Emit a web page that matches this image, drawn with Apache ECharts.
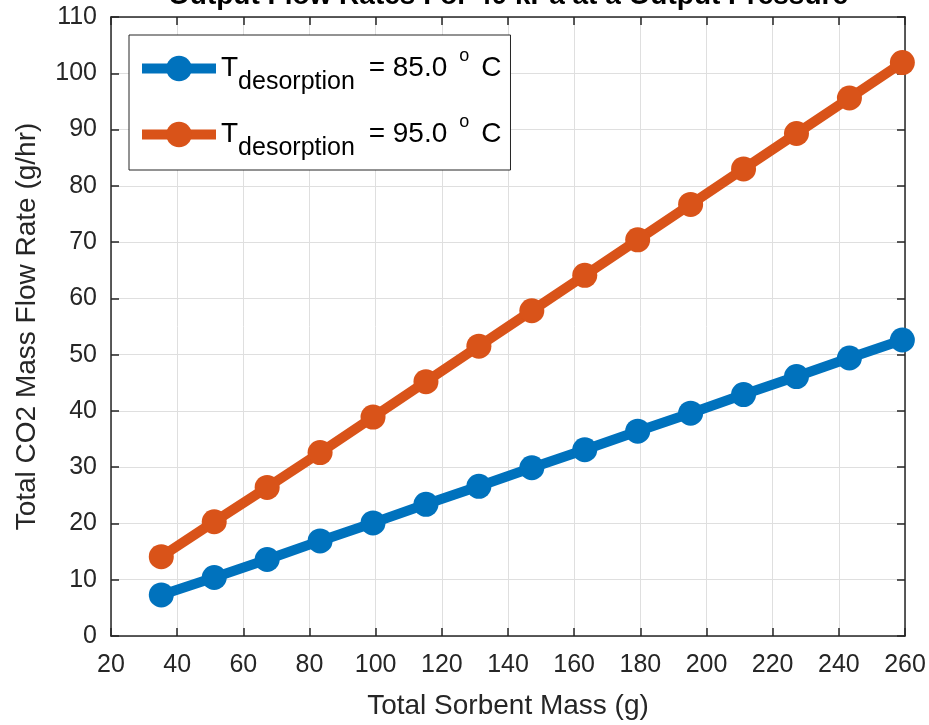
<!DOCTYPE html>
<html>
<head>
<meta charset="utf-8">
<script src="https://cdn.jsdelivr.net/npm/echarts@6/dist/echarts.min.js"></script>
<style>
html,body{margin:0;padding:0;background:#fff;}
#chart{width:929px;height:725px;}
</style>
</head>
<body>
<div id="chart"></div>
<script>
// ---- data ----
const titleText = 'Output Flow Rates For 40 kPa at a Output Pressure';
const xAxisTitle = 'Total Sorbent Mass (g)';
const yAxisTitle = 'Total CO2 Mass Flow Rate (g/hr)';
const sorbentMass = [35.2, 51.2, 67.2, 83.2, 99.2, 115.2, 131.2, 147.2, 163.2, 179.2, 195.2, 211.2, 227.2, 243.2, 259.2];
const flow85 = [7.3, 10.4, 13.6, 16.9, 20.1, 23.4, 26.6, 29.9, 33.1, 36.4, 39.6, 42.9, 46.1, 49.4, 52.6];
const flow95 = [14.1, 20.3, 26.4, 32.6, 38.9, 45.2, 51.5, 57.8, 64.1, 70.4, 76.7, 83.0, 89.3, 95.6, 101.9];
const seriesNames = ['T_desorption = 85.0 °C', 'T_desorption = 95.0 °C'];
const seriesTemps = ['85.0', '95.0'];
const seriesColors = ['#0072BD', '#D95319'];
const xMin = 20, xMax = 260, xStep = 20;
const yMin = 0, yMax = 110, yStep = 10;

const FONT = '"Liberation Sans", Arial, Helvetica, sans-serif';
const AX = '#262626';

const chart = echarts.init(document.getElementById('chart'), null, {renderer: 'canvas'});

function mkSeries(name, ys, color) {
  return {
    name: name,
    type: 'line',
    data: sorbentMass.map((x, i) => [x, ys[i]]),
    symbol: 'circle',
    symbolSize: 25,
    lineStyle: {color: color, width: 10},
    itemStyle: {color: color},
    emphasis: {disabled: true},
    z: 3
  };
}

const axisCommon = {
  axisLine: {show: true, onZero: false, lineStyle: {color: AX, width: 1.5}},
  axisTick: {show: true, inside: true, length: 8, lineStyle: {color: AX, width: 1.5}}
};

const option = {
  backgroundColor: '#ffffff',
  animation: false,
  title: {
    text: titleText,
    left: 508,
    textAlign: 'center',
    top: -18,
    padding: 0,
    textStyle: {fontFamily: FONT, fontSize: 28, fontWeight: 'bold', color: '#000'}
  },
  grid: {left: 111, right: 24, top: 17, bottom: 89, containLabel: false, outerBoundsMode: 'none'},
  legend: {
    orient: 'vertical',
    left: 129,
    top: 35,
    padding: [7, 9, 9, 8],
    itemGap: 13,
    itemWidth: 74,
    itemHeight: 32,
    borderColor: AX,
    borderWidth: 1,
    backgroundColor: '#ffffff',
    borderRadius: 0,
    lineStyle: {width: 10},
    data: seriesNames,
    formatter: function (name) {
      const idx = seriesNames.indexOf(name);
      return '{t|T}{s|desorption}{e| = ' + seriesTemps[idx] + '}{p|o}{c|C}';
    },
    textStyle: {
      fontFamily: FONT,
      color: '#000',
      rich: {
        t: {fontFamily: FONT, fontSize: 28, lineHeight: 30, padding: [9, 0, 9, 0], color: '#000'},
        s: {fontFamily: FONT, fontSize: 25, lineHeight: 20, padding: [28, 0, 0, 0], color: '#000'},
        e: {fontFamily: FONT, fontSize: 28, lineHeight: 30, padding: [9, 0, 9, 6], color: '#000'},
        p: {fontFamily: FONT, fontSize: 18, lineHeight: 18, padding: [3, 0, 27, 12], color: '#000'},
        c: {fontFamily: FONT, fontSize: 28, lineHeight: 30, padding: [9, 0, 9, 12], color: '#000'}
      }
    }
  },
  xAxis: [
    Object.assign({}, axisCommon, {
      type: 'value', position: 'bottom', min: xMin, max: xMax, interval: xStep,
      name: xAxisTitle, nameLocation: 'middle', nameGap: 56,
      nameTextStyle: {fontFamily: FONT, fontSize: 28, color: AX},
      axisLabel: {fontFamily: FONT, fontSize: 25, color: AX, margin: 17},
      splitLine: {show: true, lineStyle: {color: '#dfdfdf', width: 1}}
    }),
    Object.assign({}, axisCommon, {
      type: 'value', position: 'top', min: xMin, max: xMax, interval: xStep,
      axisLabel: {show: false}, splitLine: {show: false}
    })
  ],
  yAxis: [
    Object.assign({}, axisCommon, {
      type: 'value', position: 'left', min: yMin, max: yMax, interval: yStep,
      name: yAxisTitle, nameLocation: 'middle', nameGap: 70,
      nameTextStyle: {fontFamily: FONT, fontSize: 28, color: AX},
      axisLabel: {fontFamily: FONT, fontSize: 25, color: AX, margin: 14},
      splitLine: {show: true, lineStyle: {color: '#dfdfdf', width: 1}}
    }),
    Object.assign({}, axisCommon, {
      type: 'value', position: 'right', min: yMin, max: yMax, interval: yStep,
      axisLabel: {show: false}, splitLine: {show: false}
    })
  ],
  series: [
    mkSeries(seriesNames[0], flow85, seriesColors[0]),
    mkSeries(seriesNames[1], flow95, seriesColors[1])
  ]
};
chart.setOption(option);
</script>
</body>
</html>
